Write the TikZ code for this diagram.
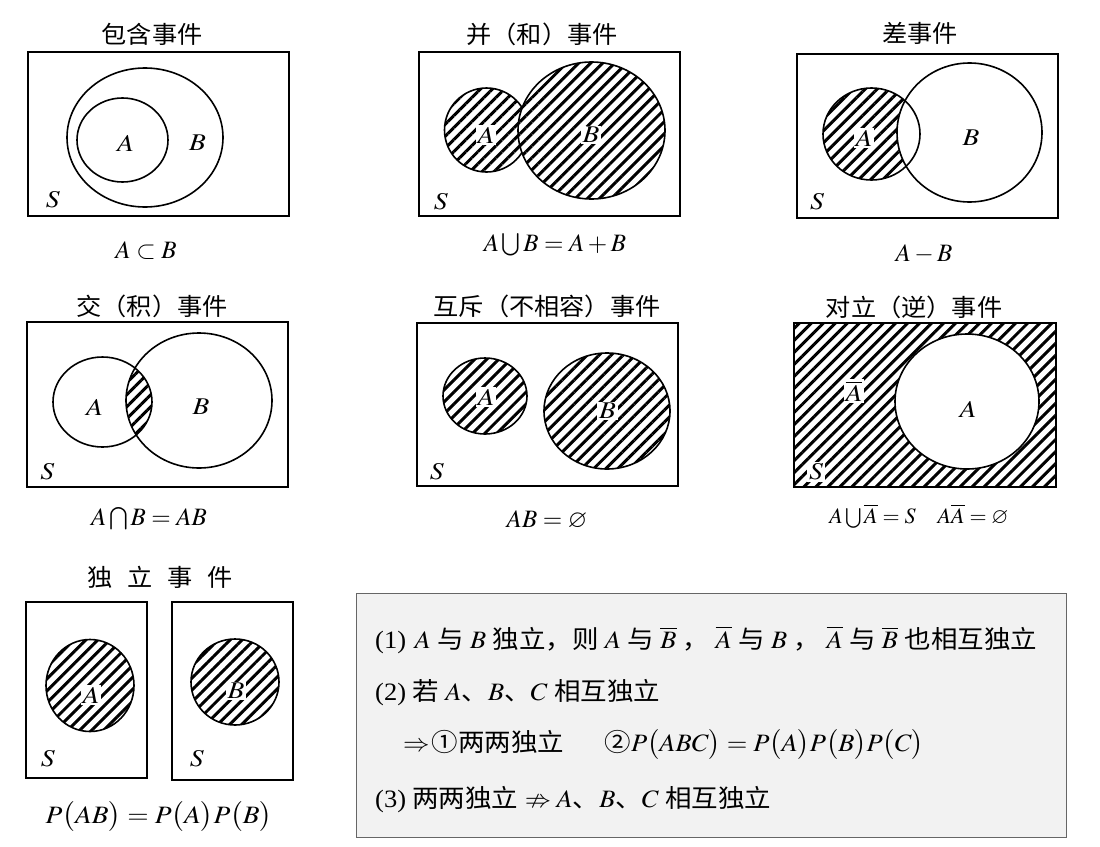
\documentclass[tikz,border=0pt]{standalone}
\usepackage{mathptmx}
\usepackage{amssymb}
\usepackage{fontspec}
\setmainfont{Liberation Serif}
\newfontfamily\cjk{Noto Sans CJK SC}
\usetikzlibrary{patterns.meta}

\newcommand\zh[1]{\hspace{6pt}{\cjk #1}\hspace{6pt}}

\tikzset{
  frame/.style={draw, line width=1.8pt},
  setline/.style={draw, line width=1.6pt},
  hatch/.style={pattern={Lines[angle=45,distance=8.5pt,line width=3pt]}},
  lab/.style={inner sep=1.5pt, xscale=1.15, font=\fontsize{24}{26}\selectfont},
  whitelab/.style={lab, fill=white},
  ttl/.style={xscale=1.05, font=\cjk\fontsize{24}{26}\selectfont},
  captext/.style={font=\fontsize{25}{27}\selectfont},
  txt/.style={anchor=west, inner sep=0pt, xscale=1.06, font=\fontsize{25}{28}\selectfont},
}

\begin{document}
\begin{tikzpicture}[x=1pt, y=-1pt]
  \useasboundingbox (0,0) rectangle (1100,846);

  % Inclusion
  \node[ttl] (t1) at (152,34) {包含事件};
  \draw[frame] (28,52) rectangle (289,216);
  \draw[setline] (145,137.5) ellipse [x radius=78, y radius=69.5];
  \draw[setline] (122.5,140) ellipse [x radius=45.5, y radius=42];
  \node[lab] (a1) at (125.5,143) {$A$};
  \node[lab] (b1) at (197.5,143) {$B$};
  \node[lab] (s1) at (53,200) {$S$};
  \node[captext] (c1) at (146,251) {$A\subset B$};

  % Union
  \node[ttl] (t2) at (542,34) {并（和）事件};
  \draw[frame] (419,52) rectangle (680,216);
  \path[hatch] (486.5,130) circle [radius=42];
  \draw[setline] (486.5,130) circle [radius=42];
  \fill[white] (591.5,130.5) ellipse [x radius=73.5, y radius=68.5];
  \path[hatch] (591.5,130.5) ellipse [x radius=73.5, y radius=68.5];
  \draw[setline] (591.5,130.5) ellipse [x radius=73.5, y radius=68.5];
  \node[whitelab] (a2) at (486,135) {$A$};
  \node[whitelab] (b2) at (591,135) {$B$};
  \node[lab] (s2) at (441,202) {$S$};
  \node[captext] (c2) at (555,245) {$A\bigcup B=A+B$};

  % Difference
  \node[ttl] (t3) at (920,33) {差事件};
  \draw[frame] (797,54) rectangle (1058,218);
  \path[hatch] (871.5,134) ellipse [x radius=48.5, y radius=46];
  \fill[white] (969.5,132.5) ellipse [x radius=72.5, y radius=69.5];
  \draw[setline] (871.5,134) ellipse [x radius=48.5, y radius=46];
  \draw[setline] (969.5,132.5) ellipse [x radius=72.5, y radius=69.5];
  \node[whitelab] (a3) at (864,138) {$A$};
  \node[lab] (b3) at (971,138) {$B$};
  \node[lab] (s3) at (817,202) {$S$};
  \node[captext] (c3) at (924,254) {$A-B$};

  % Intersection
  \node[ttl] (t4) at (152,306) {交（积）事件};
  \draw[frame] (27,322) rectangle (288,487);
  \begin{scope}
    \clip (102.5,402) ellipse [x radius=49.5, y radius=45];
    \path[hatch] (199,400.5) ellipse [x radius=73, y radius=67.5];
  \end{scope}
  \draw[setline] (102.5,402) ellipse [x radius=49.5, y radius=45];
  \draw[setline] (199,400.5) ellipse [x radius=73, y radius=67.5];
  \node[lab] (a4) at (94.5,407) {$A$};
  \node[lab] (b4) at (201,407) {$B$};
  \node[lab] (s4) at (47.5,472) {$S$};
  \node[captext] (c4) at (149,519) {$A\bigcap B=AB$};

  % Mutually exclusive
  \node[ttl] (t5) at (547,306) {互斥（不相容）事件};
  \draw[frame] (417,323) rectangle (678,486);
  \path[hatch] (485,396) ellipse [x radius=42, y radius=38];
  \draw[setline] (485,396) ellipse [x radius=42, y radius=38];
  \path[hatch] (607,411) ellipse [x radius=63, y radius=58];
  \draw[setline] (607,411) ellipse [x radius=63, y radius=58];
  \node[whitelab] (a5) at (486,397) {$A$};
  \node[whitelab] (b5) at (607.5,411) {$B$};
  \node[lab] (s5) at (437,472) {$S$};
  \node[captext] (c5) at (547,520) {$AB=\varnothing$};

  % Complement
  \node[ttl] (t6) at (914,307) {对立（逆）事件};
  \path[hatch] (794,323) rectangle (1056,487);
  \fill[white] (967,401.5) ellipse [x radius=72, y radius=67.5];
  \draw[frame] (794,323) rectangle (1056,487);
  \draw[setline] (967,401.5) ellipse [x radius=72, y radius=67.5];
  \node[whitelab] (na6) at (854,391) {$\overline{A}$};
  \node[lab] (a6) at (968,409) {$A$};
  \node[whitelab] (s6) at (816,472) {$S$};
  \node[captext, font=\fontsize{22}{24}\selectfont] (c6) at (919,516) {$A\bigcup\overline{A}=S\quad A\overline{A}=\varnothing$};

  % Independent
  \node[ttl] (t7) at (160,577) {独\hspace{14pt}立\hspace{14pt}事\hspace{14pt}件};
  \draw[frame] (26,602) rectangle (147,778);
  \draw[frame] (172,602) rectangle (293,780);
  \path[hatch] (90,685.5) ellipse [x radius=44, y radius=46];
  \draw[setline] (90,685.5) ellipse [x radius=44, y radius=46];
  \path[hatch] (235,682) ellipse [x radius=44, y radius=43];
  \draw[setline] (235,682) ellipse [x radius=44, y radius=43];
  \node[whitelab] (a7) at (91,695) {$A$};
  \node[whitelab] (b7) at (236,691) {$B$};
  \node[lab] (s7) at (48,759) {$S$};
  \node[lab] (s8) at (197,759) {$S$};
  \node[captext, xscale=1.1] (c7) at (159,817) {$P\bigl(AB\bigr)=P\bigl(A\bigr)P\bigl(B\bigr)$};

  % Notes
  \draw[draw=gray!80!black, fill=gray!10, line width=1pt] (356,593) rectangle (1066,837);
  \node[txt] (l1) at (375,640) {(1)\hspace{8pt}$A$\zh{与}$B$\zh{独立，则}$A$\zh{与}$\overline{B}$\zh{，}$\overline{A}$\zh{与}$B$\zh{，}$\overline{A}$\zh{与}$\overline{B}$\zh{也相互独立}};
  \node[txt] (l2) at (375,693) {(2)\zh{若}$A${\cjk 、}$B${\cjk 、}$C$\zh{相互独立}};
  \node[txt] (l3) at (403,745) {$\Rightarrow$\hspace{2pt}{\cjk ①两两独立}\hspace{38pt}{\cjk ②}$P\bigl(ABC\bigr)=P\bigl(A\bigr)P\bigl(B\bigr)P\bigl(C\bigr)$};
  \node[txt] (l4) at (375,800) {(3)\zh{两两独立}$\nRightarrow$\hspace{5pt}$A${\cjk 、}$B${\cjk 、}$C$\zh{相互独立}};
\end{tikzpicture}
\end{document}
